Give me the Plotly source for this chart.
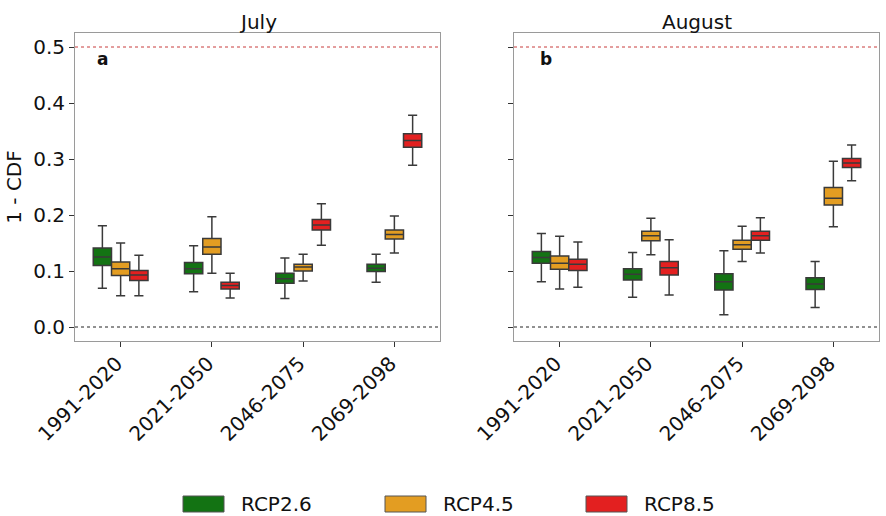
import plotly.graph_objects as go
from plotly.subplots import make_subplots

periods = ["1991-2020", "2021-2050", "2046-2075", "2069-2098"]
scenarios = ["RCP2.6", "RCP4.5", "RCP8.5"]
colors = {"RCP2.6": "#137313", "RCP4.5": "#E39D22", "RCP8.5": "#E32020"}

# July: per scenario, per period: (low, q1, median, q3, high)
july_rcp26_low = [0.069, 0.063, 0.051, 0.080]
july_rcp26_q1 = [0.110, 0.095, 0.078, 0.099]
july_rcp26_med = [0.125, 0.104, 0.086, 0.105]
july_rcp26_q3 = [0.141, 0.115, 0.096, 0.112]
july_rcp26_high = [0.181, 0.145, 0.123, 0.130]

july_rcp45_low = [0.056, 0.096, 0.082, 0.132]
july_rcp45_q1 = [0.092, 0.130, 0.100, 0.157]
july_rcp45_med = [0.104, 0.143, 0.107, 0.165]
july_rcp45_q3 = [0.116, 0.158, 0.112, 0.173]
july_rcp45_high = [0.150, 0.197, 0.130, 0.198]

july_rcp85_low = [0.056, 0.052, 0.146, 0.289]
july_rcp85_q1 = [0.083, 0.068, 0.173, 0.321]
july_rcp85_med = [0.093, 0.074, 0.182, 0.333]
july_rcp85_q3 = [0.101, 0.080, 0.192, 0.345]
july_rcp85_high = [0.128, 0.096, 0.220, 0.378]

# August
aug_rcp26_low = [0.081, 0.053, 0.022, 0.035]
aug_rcp26_q1 = [0.114, 0.084, 0.066, 0.067]
aug_rcp26_med = [0.124, 0.094, 0.081, 0.077]
aug_rcp26_q3 = [0.135, 0.104, 0.095, 0.088]
aug_rcp26_high = [0.167, 0.133, 0.136, 0.117]

aug_rcp45_low = [0.068, 0.129, 0.117, 0.179]
aug_rcp45_q1 = [0.103, 0.154, 0.139, 0.218]
aug_rcp45_med = [0.114, 0.163, 0.147, 0.230]
aug_rcp45_q3 = [0.127, 0.171, 0.155, 0.249]
aug_rcp45_high = [0.162, 0.194, 0.180, 0.296]

aug_rcp85_low = [0.071, 0.057, 0.132, 0.261]
aug_rcp85_q1 = [0.101, 0.093, 0.155, 0.285]
aug_rcp85_med = [0.112, 0.106, 0.163, 0.293]
aug_rcp85_q3 = [0.121, 0.117, 0.171, 0.301]
aug_rcp85_high = [0.152, 0.156, 0.195, 0.325]

data = {
    1: {
        "RCP2.6": (july_rcp26_low, july_rcp26_q1, july_rcp26_med, july_rcp26_q3, july_rcp26_high),
        "RCP4.5": (july_rcp45_low, july_rcp45_q1, july_rcp45_med, july_rcp45_q3, july_rcp45_high),
        "RCP8.5": (july_rcp85_low, july_rcp85_q1, july_rcp85_med, july_rcp85_q3, july_rcp85_high),
    },
    2: {
        "RCP2.6": (aug_rcp26_low, aug_rcp26_q1, aug_rcp26_med, aug_rcp26_q3, aug_rcp26_high),
        "RCP4.5": (aug_rcp45_low, aug_rcp45_q1, aug_rcp45_med, aug_rcp45_q3, aug_rcp45_high),
        "RCP8.5": (aug_rcp85_low, aug_rcp85_q1, aug_rcp85_med, aug_rcp85_q3, aug_rcp85_high),
    },
}

FONT = "DejaVu Sans"
FS = 20
fig = make_subplots(rows=1, cols=2, shared_yaxes=False, horizontal_spacing=0.0)

for col in (1, 2):
    for s in scenarios:
        lo, q1, med, q3, hi = data[col][s]
        fig.add_trace(go.Box(
            x=periods, q1=q1, median=med, q3=q3, lowerfence=lo, upperfence=hi,
            name=s, fillcolor=colors[s], line=dict(color="#3a3a3a", width=1.5),
            whiskerwidth=0.5, showlegend=False, offsetgroup=s,
        ), row=1, col=col)

dom1 = [75 / 886, 440 / 886]
dom2 = [514 / 886, 879 / 886]
ydom = [1 - 341 / 516, 1 - 33 / 516]

axis_common = dict(showline=True, linecolor="#9a9a9a", linewidth=1, mirror=True,
                   ticks="outside", ticklen=5, tickcolor="#333", showgrid=False,
                   zeroline=False, automargin=False,
                   tickfont=dict(family=FONT, size=FS, color="#111"))

xaxis_extra = dict(tickangle=-45, categoryorder="array", categoryarray=periods,
                   ticklabelshift=-4, ticklabelstandoff=-3)

fig.update_layout(
    xaxis=dict(domain=dom1, **xaxis_extra, **axis_common),
    xaxis2=dict(domain=dom2, **xaxis_extra, **axis_common),
    yaxis=dict(domain=ydom, range=[-0.025, 0.525], tickvals=[0, 0.1, 0.2, 0.3, 0.4, 0.5],
               ticktext=["0.0", "0.1", "0.2", "0.3", "0.4", "0.5"],
               title=dict(text="1 - CDF", font=dict(family=FONT, size=FS, color="#111"), standoff=6),
               **axis_common),
    yaxis2=dict(domain=ydom, range=[-0.025, 0.525], tickvals=[0, 0.1, 0.2, 0.3, 0.4, 0.5],
                showticklabels=False, **axis_common),
    boxmode="group", boxgap=0.4, boxgroupgap=0.0,
    width=886, height=516, margin=dict(l=0, r=0, t=0, b=0, autoexpand=False),
    paper_bgcolor="white", plot_bgcolor="white",
    font=dict(family=FONT, size=FS, color="#111"),
)

# reference lines
for xr, yr in (("x", "y"), ("x2", "y2")):
    fig.add_shape(type="line", xref=f"{xr} domain", yref=yr, x0=0, x1=1, y0=0.5, y1=0.5,
                  line=dict(color="#c83c3c", width=1, dash="dot"))
    fig.add_shape(type="line", xref=f"{xr} domain", yref=yr, x0=0, x1=1, y0=0, y1=0,
                  line=dict(color="#222", width=1, dash="dot"))

# titles and panel labels
fig.add_annotation(text="July", xref="x domain", yref="paper", x=0.5, y=1 - 36 / 516,
                   xanchor="center", yanchor="bottom", showarrow=False,
                   font=dict(family=FONT, size=FS, color="#111"))
fig.add_annotation(text="August", xref="x2 domain", yref="paper", x=0.5, y=1 - 36 / 516,
                   xanchor="center", yanchor="bottom", showarrow=False,
                   font=dict(family=FONT, size=FS, color="#111"))
fig.add_annotation(text="<b>a</b>", xref="x domain", yref="y domain", x=0.074, y=0.914,
                   xanchor="center", yanchor="middle",
                   showarrow=False, font=dict(family=FONT, size=17, color="#111"))
fig.add_annotation(text="<b>b</b>", xref="x2 domain", yref="y2 domain", x=0.088, y=0.914,
                   xanchor="center", yanchor="middle",
                   showarrow=False, font=dict(family=FONT, size=17, color="#111"))

# legend (custom patches)
leg_x = [183, 385, 586]
for s, lx in zip(scenarios, leg_x):
    fig.add_shape(type="rect", xref="paper", yref="paper",
                  x0=lx / 886, x1=(lx + 41) / 886, y0=1 - 512 / 516, y1=1 - 496 / 516,
                  fillcolor=colors[s], line=dict(color="#555", width=1))
    fig.add_annotation(text=s, xref="paper", yref="paper", x=(lx + 56) / 886, y=1 - 504 / 516,
                       xanchor="left", yanchor="middle", showarrow=False,
                       font=dict(family=FONT, size=FS, color="#111"))

fig.write_html("out.html")
